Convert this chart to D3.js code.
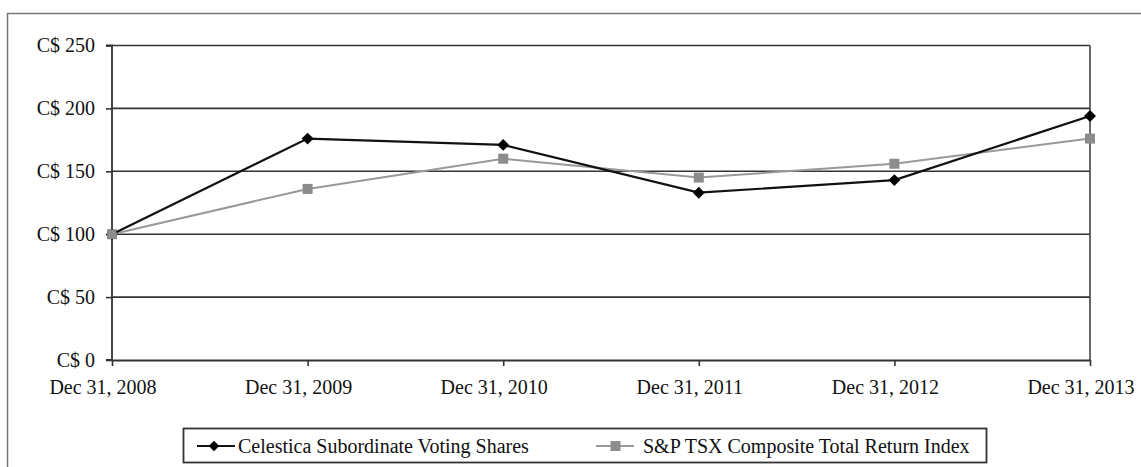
<!DOCTYPE html>
<html><head><meta charset="utf-8">
<script src="https://cdn.jsdelivr.net/npm/d3@7"></script>
<style>body{margin:0;background:#fff}svg{display:block}</style>
</head><body>
<svg id="c" width="1141" height="467" font-family="'Liberation Serif', 'Times New Roman', serif"></svg>
<script>
const categories = ["Dec 31, 2008","Dec 31, 2009","Dec 31, 2010","Dec 31, 2011","Dec 31, 2012","Dec 31, 2013"];
const celestica = [100, 176, 171, 133, 143, 194];
const tsx = [100, 136, 160, 145, 156, 176];
const yTicks = [0, 50, 100, 150, 200, 250];
const seriesNames = ["Celestica Subordinate Voting Shares", "S&P TSX Composite Total Return Index"];

const FONT = "'Liberation Serif', 'Times New Roman', serif";
const svg = d3.select("#c");
const L = 112, R = 1090, T = 45.5, B = 360;
const x = d3.scalePoint().domain(categories).range([L, R]);
const y = d3.scaleLinear().domain([0, 250]).range([B, T]);

// outer frame (left and top visible)
svg.append("path").attr("d", `M7.5,467 V13.5 H1141`).attr("fill","none").attr("stroke","#777").attr("stroke-width",1.5);

// gridlines
svg.append("g").selectAll("line").data(yTicks.filter(d=>d>0)).join("line")
  .attr("x1", L).attr("x2", R).attr("y1", d=>y(d)).attr("y2", d=>y(d))
  .attr("stroke", "#333").attr("stroke-width", 1.6);
// right border
svg.append("line").attr("x1",R).attr("x2",R).attr("y1",T).attr("y2",B).attr("stroke","#444").attr("stroke-width",1.6);

// y axis
const ya = svg.append("g").attr("transform",`translate(${L},0)`)
  .call(d3.axisLeft(y).tickValues(yTicks).tickSize(6).tickPadding(11).tickFormat(d=>"C$ "+d));
// x axis
const xa = svg.append("g").attr("transform",`translate(0,${B})`)
  .call(d3.axisBottom(x).tickSize(6).tickPadding(10).tickSizeOuter(0));
[ya, xa].forEach(a=>{
  a.attr("font-family", FONT).attr("font-size", 20);
  a.select(".domain").attr("stroke","#333").attr("stroke-width",1.8);
  a.selectAll(".tick line").attr("stroke","#333").attr("stroke-width",1.6);
  a.selectAll("text").attr("fill","#111");
});
ya.select(".domain").attr("d", `M-6,${B}H0V${T}H-6`);
xa.selectAll(".tick text").attr("dy","0.9em").attr("dx", -9.5);

const line = d3.line().x((d,i)=>x(categories[i])).y(d=>y(d));
// TSX
svg.append("path").datum(tsx).attr("d", line).attr("fill","none").attr("stroke","#999").attr("stroke-width",2);
svg.append("g").selectAll("rect").data(tsx).join("rect")
  .attr("x",(d,i)=>x(categories[i])-5).attr("y",d=>y(d)-5).attr("width",10).attr("height",10).attr("fill","#8c8c8c");
// Celestica
svg.append("path").datum(celestica).attr("d", line).attr("fill","none").attr("stroke","#111").attr("stroke-width",2.2);
const diamond = d3.symbol().type(d3.symbolDiamond2).size(90);
svg.append("g").selectAll("path").data(celestica).join("path")
  .attr("transform",(d,i)=>`translate(${x(categories[i])},${y(d)})`).attr("d",diamond).attr("fill","#000");
// first point gray (overlap of both series at 100)
svg.append("circle").attr("cx",x(categories[0])).attr("cy",y(tsx[0])).attr("r",5).attr("fill","#8c8c8c");

// legend
const lg = svg.append("g").attr("font-family", FONT).attr("font-size", 20);
lg.append("rect").attr("x",183.5).attr("y",428.5).attr("width",803).attr("height",34).attr("fill","#fff").attr("stroke","#333").attr("stroke-width",1.8);
const ly = 446;
lg.append("line").attr("x1",197).attr("x2",235).attr("y1",ly).attr("y2",ly).attr("stroke","#111").attr("stroke-width",2.2);
lg.append("path").attr("transform",`translate(214,${ly})`).attr("d",d3.symbol().type(d3.symbolDiamond2).size(70)).attr("fill","#000");
lg.append("text").attr("x",238).attr("y",ly).attr("dy","0.35em").attr("fill","#111").text(seriesNames[0]);
lg.append("line").attr("x1",596).attr("x2",634).attr("y1",ly).attr("y2",ly).attr("stroke","#999").attr("stroke-width",2);
lg.append("rect").attr("x",610.5).attr("y",ly-5).attr("width",10).attr("height",10).attr("fill","#8c8c8c");
lg.append("text").attr("x",643).attr("y",ly).attr("dy","0.35em").attr("fill","#111").text(seriesNames[1]);
</script>
</body></html>
